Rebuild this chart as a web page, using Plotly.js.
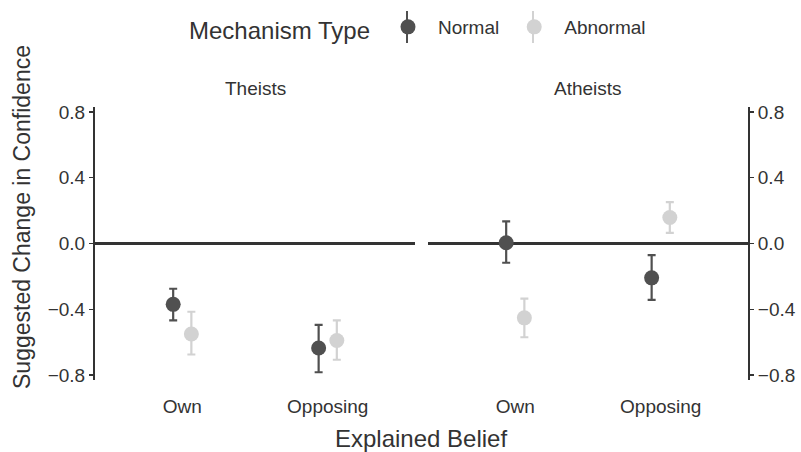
<!DOCTYPE html>
<html>
<head>
<meta charset="utf-8">
<script src="https://cdn.plot.ly/plotly-3.0.1.min.js"></script>
<style>body{margin:0;padding:0;background:#fff;} #chart{width:801px;height:452px;}</style>
</head>
<body>
<div id="chart"></div>
<script>
// Data
const panels = ["Theists", "Atheists"];
const beliefs = ["Own", "Opposing"];
const mechanisms = ["Normal", "Abnormal"];
const yTicks = [-0.8, -0.4, 0, 0.4, 0.8];

const theistsNormalMean  = [-0.370, -0.635];
const theistsNormalLow   = [-0.468, -0.783];
const theistsNormalHigh  = [-0.275, -0.495];
const theistsAbnormalMean = [-0.550, -0.590];
const theistsAbnormalLow  = [-0.675, -0.707];
const theistsAbnormalHigh = [-0.415, -0.468];

const atheistsNormalMean  = [0.005, -0.209];
const atheistsNormalLow   = [-0.117, -0.343];
const atheistsNormalHigh  = [0.134, -0.071];
const atheistsAbnormalMean = [-0.452, 0.158];
const atheistsAbnormalLow  = [-0.570, 0.065];
const atheistsAbnormalHigh = [-0.335, 0.251];

const colors = {Normal: "#505050", Abnormal: "#d2d2d2"};
const dodge = {Normal: -0.0625, Abnormal: 0.0625};

function trace(name, mean, low, high, xa, ya, showlegend) {
  return {
    type: "scatter", mode: "markers", name: name,
    x: beliefs.map((b, i) => i + 1 + dodge[name]),
    y: mean,
    xaxis: xa, yaxis: ya,
    showlegend: showlegend, legendgroup: name,
    marker: {color: colors[name], size: 15},
    error_y: {
      type: "data", symmetric: false,
      array: high.map((h, i) => h - mean[i]),
      arrayminus: low.map((l, i) => mean[i] - l),
      color: colors[name], thickness: 2.2, width: 4
    },
    hoverinfo: "x+y"
  };
}

const data = [
  trace("Normal", theistsNormalMean, theistsNormalLow, theistsNormalHigh, "x", "y", true),
  trace("Abnormal", theistsAbnormalMean, theistsAbnormalLow, theistsAbnormalHigh, "x", "y", true),
  trace("Normal", atheistsNormalMean, atheistsNormalLow, atheistsNormalHigh, "x2", "y2", false),
  trace("Abnormal", atheistsAbnormalMean, atheistsAbnormalLow, atheistsAbnormalHigh, "x2", "y2", false)
];

const font = "Liberation Sans, Arial, Helvetica, sans-serif";
const dark = "#333333";

function xAxis(domain, anchor) {
  return {
    domain: domain, anchor: anchor, range: [0.4, 2.6],
    tickmode: "array", tickvals: [1, 2], ticktext: beliefs,
    showgrid: false, zeroline: false, showline: false,
    ticks: "outside", ticklen: 9, tickcolor: "rgba(0,0,0,0)",
    tickfont: {family: font, size: 19, color: dark}, fixedrange: true
  };
}
function yAxis(anchor, side) {
  return {
    anchor: anchor, side: side, range: [-0.83, 0.83],
    tickmode: "array", tickvals: yTicks, tickformat: ".1f",
    showgrid: false, showline: true, linecolor: dark, linewidth: 2,
    ticks: "outside", ticklen: 4, tickwidth: 1.5, tickcolor: dark,
    zeroline: true, zerolinecolor: dark, zerolinewidth: 2.2,
    tickfont: {family: font, size: 19, color: dark}, fixedrange: true
  };
}

// legend key error-bar strokes (decoration of the legend keys)
function keyLine(px, color) {
  return {type: "line", xref: "paper", yref: "paper",
    x0: (px - 95) / 653, x1: (px - 95) / 653,
    y0: (380 - 11) / 273, y1: (380 - 43) / 273,
    line: {color: color, width: 2}, layer: "below"};
}

const layout = {
  width: 801, height: 452,
  margin: {l: 95, r: 53, t: 107, b: 72},
  paper_bgcolor: "#ffffff", plot_bgcolor: "#ffffff",
  font: {family: font, color: dark},
  xaxis: xAxis([0, 320 / 653], "y"),
  xaxis2: xAxis([333 / 653, 1], "y2"),
  yaxis: yAxis("x", "left"),
  yaxis2: yAxis("x2", "right"),
  showlegend: true,
  legend: {
    orientation: "h", xref: "container", yref: "container",
    x: 187 / 801, xanchor: "left", y: 1 - 8 / 452, yanchor: "top",
    title: {text: "Mechanism Type", side: "left", font: {family: font, size: 24, color: dark}},
    font: {family: font, size: 19, color: dark},
    itemwidth: 50, bgcolor: "rgba(0,0,0,0)"
  },
  shapes: [keyLine(407, colors.Normal), keyLine(533, colors.Abnormal)],
  annotations: [
    {text: panels[0], xref: "paper", yref: "paper", x: 160 / 653, y: 1.066, showarrow: false,
     xanchor: "center", yanchor: "middle", font: {family: font, size: 19, color: dark}},
    {text: panels[1], xref: "paper", yref: "paper", x: 493 / 653, y: 1.066, showarrow: false,
     xanchor: "center", yanchor: "middle", font: {family: font, size: 19, color: dark}},
    {text: "Explained Belief", xref: "paper", yref: "paper", x: 326 / 653, y: -58 / 273, showarrow: false,
     xanchor: "center", yanchor: "middle", font: {family: font, size: 24, color: dark}},
    {text: "Suggested Change in Confidence", xref: "paper", yref: "paper", x: -73 / 653, y: 163 / 273, showarrow: false,
     textangle: -90, xanchor: "center", yanchor: "middle", font: {family: font, size: 23, color: dark}}
  ]
};

Plotly.newPlot("chart", data, layout, {displayModeBar: false, staticPlot: true});
</script>
</body>
</html>
